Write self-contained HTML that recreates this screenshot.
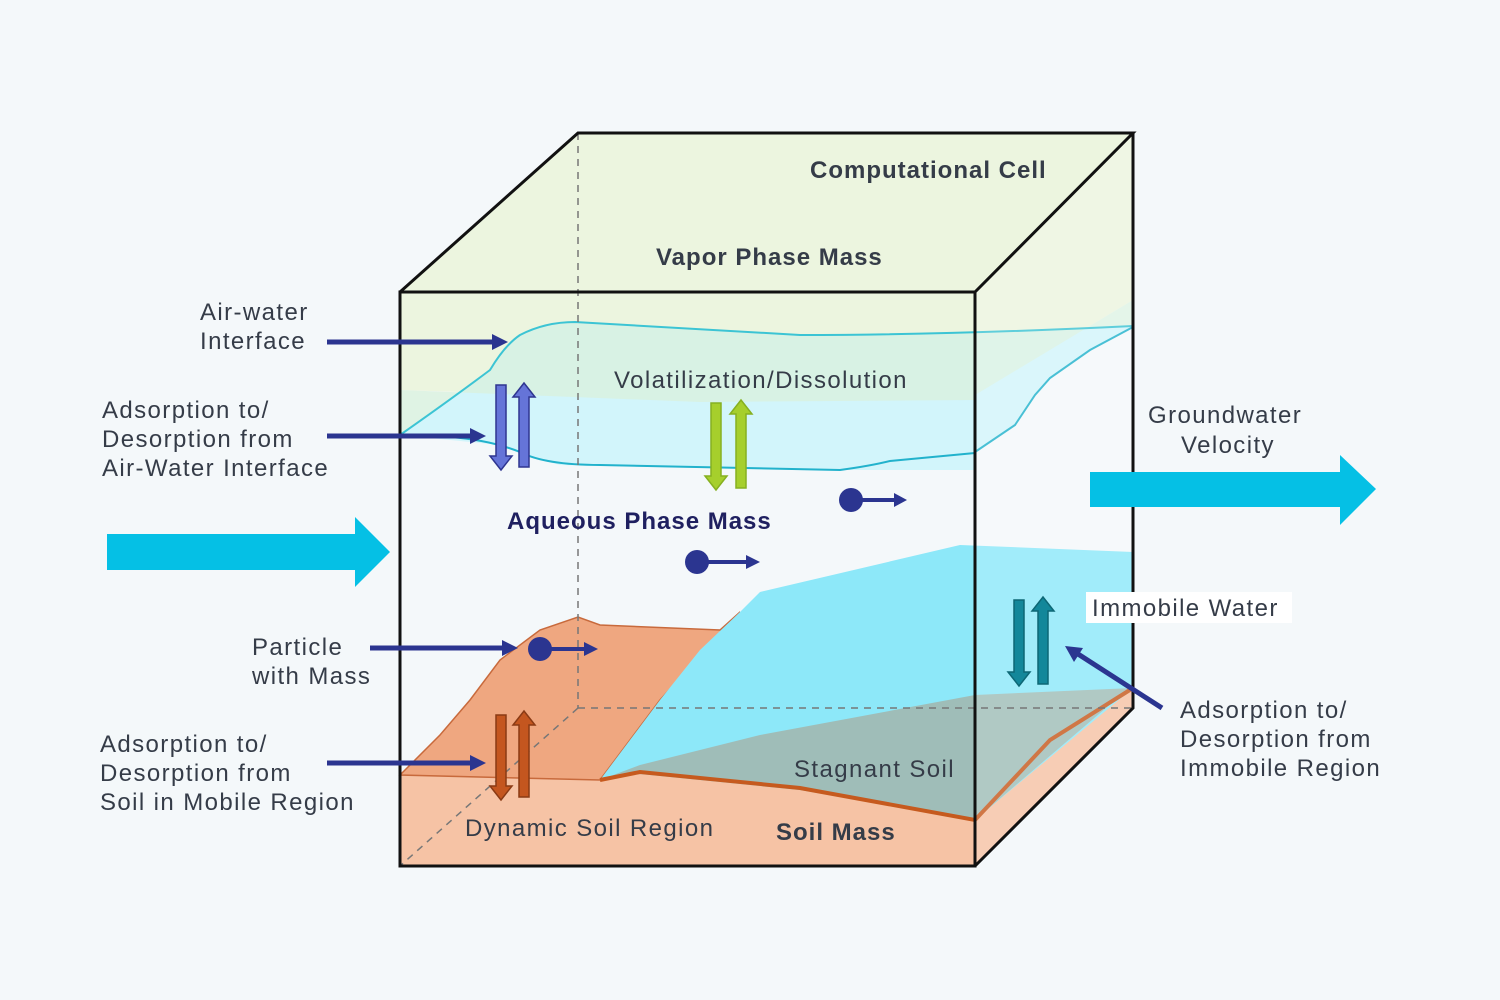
<!DOCTYPE html>
<html><head><meta charset="utf-8"><style>
html,body{margin:0;padding:0;background:#f4f8fa;}
svg{display:block;}
text{font-family:"Liberation Sans",sans-serif;fill:#353c48;font-size:24px;letter-spacing:1.4px;}
.b{font-weight:bold;letter-spacing:1px;}
</style></head><body>
<svg width="1500" height="1000" viewBox="0 0 1500 1000" xmlns="http://www.w3.org/2000/svg">
<rect width="1500" height="1000" fill="#f4f8fa"/>
<polygon points="400,292 578,133 1133,133 975,292" fill="#ecf5df"/>
<polygon points="975,292 975,395 1133,300 1133,133" fill="#ecf5df"/>
<polygon points="400,292 975,292 975,400 700,400 400,390" fill="#ecf5df"/>
<path d="M400,435 Q450,400 490,370 Q505,345 520,335 Q545,322 575,322 L800,335 Q950,335 1133,326 L1090,350 L1050,378 L1035,395 L1015,425 L975,452 L975,470 L800,470 L560,465 Q520,455 500,445 Z" fill="#d2f5fb"/>
<path d="M400,435 Q450,400 490,370 Q505,345 520,335 Q545,322 575,322 L800,335 Q950,335 1133,326 L1133,300 L975,395 L975,400 L700,402 L400,390 Z" fill="#d9f1df" opacity="0.8"/>
<path d="M400,435 Q450,400 490,370 Q505,345 520,335 Q545,322 575,322 L800,335 Q950,335 1133,326" fill="none" stroke="#3cc4d4" stroke-width="2"/>
<path d="M400,435 L450,437 Q490,440 520,452 Q545,465 600,465 L840,470 Q870,466 890,461 L975,453" fill="none" stroke="#22b2cc" stroke-width="2"/>
<path d="M975,452 L1015,425 L1035,395 L1050,378 L1090,350 L1133,327" fill="none" stroke="#22b2cc" stroke-width="2"/>
<polygon points="400,775 600,780 640,770 800,786 975,818 975,866 400,866" fill="#f6c3a5"/>
<polygon points="975,818 1133,686 1133,708 975,866" fill="#f6c3a5"/>
<path d="M405,770 L440,735 L470,700 L500,660 L540,630 L578,617 L600,625 L720,630 L740,612 L660,700 L600,780 L400,775 Z" fill="#efa780" stroke="#c86a3c" stroke-width="1.5"/>
<path d="M600,780 L660,700 L700,650 L740,612 L760,592 L960,545 L1133,552 L1133,688 L975,820 L800,790 L640,774 Z" fill="#8de8f9"/>
<path d="M600,780 L640,765 L760,735 L975,695 L1133,688 L1120,696 L975,820 L960,818 L800,790 L640,774 Z" fill="#9fbdb8"/>
<path d="M600,780 L640,772 L800,788 L975,820 L1050,740 L1133,688" fill="none" stroke="#c65a1e" stroke-width="4"/>
<polygon points="975,292 1133,133 1133,708 975,866" fill="#ffffff" opacity="0.18"/>
<line x1="578" y1="133" x2="578" y2="708" stroke="#777" stroke-width="1.5" stroke-dasharray="7,6"/>
<line x1="578" y1="708" x2="1133" y2="708" stroke="#777" stroke-width="1.5" stroke-dasharray="7,6"/>
<line x1="578" y1="708" x2="400" y2="866" stroke="#777" stroke-width="1.5" stroke-dasharray="7,6"/>
<g fill="none" stroke="#111" stroke-width="3">
<rect x="400" y="292" width="575" height="574"/>
<polyline points="400,292 578,133 1133,133 975,292"/>
<polyline points="1133,133 1133,708 975,866"/>
</g>
<g stroke-width="1.5">
<polygon fill="#6574d8" stroke="#2e3590" points="496,385 506,385 506,456 512,456 501,470 490,456 496,456"/>
<polygon fill="#6574d8" stroke="#2e3590" points="519,467 529,467 529,397 535,397 524,383 513,397 519,397"/>
<polygon fill="#a6cf2c" stroke="#86b020" points="711,403 721,403 721,476 727,476 716,490 705,476 711,476"/>
<polygon fill="#a6cf2c" stroke="#86b020" points="736,488 746,488 746,414 752,414 741,400 730,414 736,414"/>
<polygon fill="#c4561f" stroke="#8a3a14" points="496,715 506,715 506,786 512,786 501,800 490,786 496,786"/>
<polygon fill="#c4561f" stroke="#8a3a14" points="519,797 529,797 529,725 535,725 524,711 513,725 519,725"/>
<polygon fill="#13879a" stroke="#0d6775" points="1014,600 1024,600 1024,672 1030,672 1019,686 1008,672 1014,672"/>
<polygon fill="#13879a" stroke="#0d6775" points="1038,684 1048,684 1048,611 1054,611 1043,597 1032,611 1038,611"/>
</g>
<g stroke="#2b3590" stroke-width="5" fill="#2b3590">
<line x1="327" y1="342" x2="494" y2="342"/><polygon stroke="none" points="492,334 508,342 492,350"/>
<line x1="327" y1="436" x2="472" y2="436"/><polygon stroke="none" points="470,428 486,436 470,444"/>
<line x1="370" y1="648" x2="504" y2="648"/><polygon stroke="none" points="502,640 518,648 502,656"/>
<line x1="327" y1="763" x2="472" y2="763"/><polygon stroke="none" points="470,755 486,763 470,771"/>
<line x1="1162" y1="708" x2="1078" y2="654"/><polygon stroke="none" points="1065,646 1083,648 1074,662"/>
<circle stroke="none" cx="851" cy="500" r="12"/><line x1="860" y1="500" x2="896" y2="500" stroke-width="4"/><polygon stroke="none" points="894,493 907,500 894,507"/>
<circle stroke="none" cx="697" cy="562" r="12"/><line x1="706" y1="562" x2="748" y2="562" stroke-width="4"/><polygon stroke="none" points="746,555 760,562 746,569"/>
<circle stroke="none" cx="540" cy="649" r="12"/><line x1="549" y1="649" x2="586" y2="649" stroke-width="4"/><polygon stroke="none" points="584,642 598,649 584,656"/>
</g>
<polygon fill="#05c0e5" points="107,534 355,534 355,517 390,552 355,587 355,570 107,570"/>
<polygon fill="#05c0e5" points="1090,472 1340,472 1340,455 1376,489 1340,525 1340,507 1090,507"/>
<text class="b" x="810" y="178">Computational Cell</text>
<text class="b" x="656" y="265">Vapor Phase Mass</text>
<text x="614" y="388">Volatilization/Dissolution</text>
<text class="b" x="507" y="529" style="fill:#1f2060">Aqueous Phase Mass</text>
<text x="794" y="777">Stagnant Soil</text>
<text x="465" y="836">Dynamic Soil Region</text>
<text class="b" x="776" y="840">Soil Mass</text>
<rect x="1086" y="592" width="206" height="31" fill="#ffffff"/>
<text x="1092" y="616">Immobile Water</text>
<text x="200" y="320">Air-water</text>
<text x="200" y="349">Interface</text>
<text x="102" y="418">Adsorption to/</text>
<text x="102" y="447">Desorption from</text>
<text x="102" y="476">Air-Water Interface</text>
<text x="1148" y="423">Groundwater</text>
<text x="1181" y="453">Velocity</text>
<text x="252" y="655">Particle</text>
<text x="252" y="684">with Mass</text>
<text x="100" y="752">Adsorption to/</text>
<text x="100" y="781">Desorption from</text>
<text x="100" y="810">Soil in Mobile Region</text>
<text x="1180" y="718">Adsorption to/</text>
<text x="1180" y="747">Desorption from</text>
<text x="1180" y="776">Immobile Region</text>
</svg>
</body></html>
